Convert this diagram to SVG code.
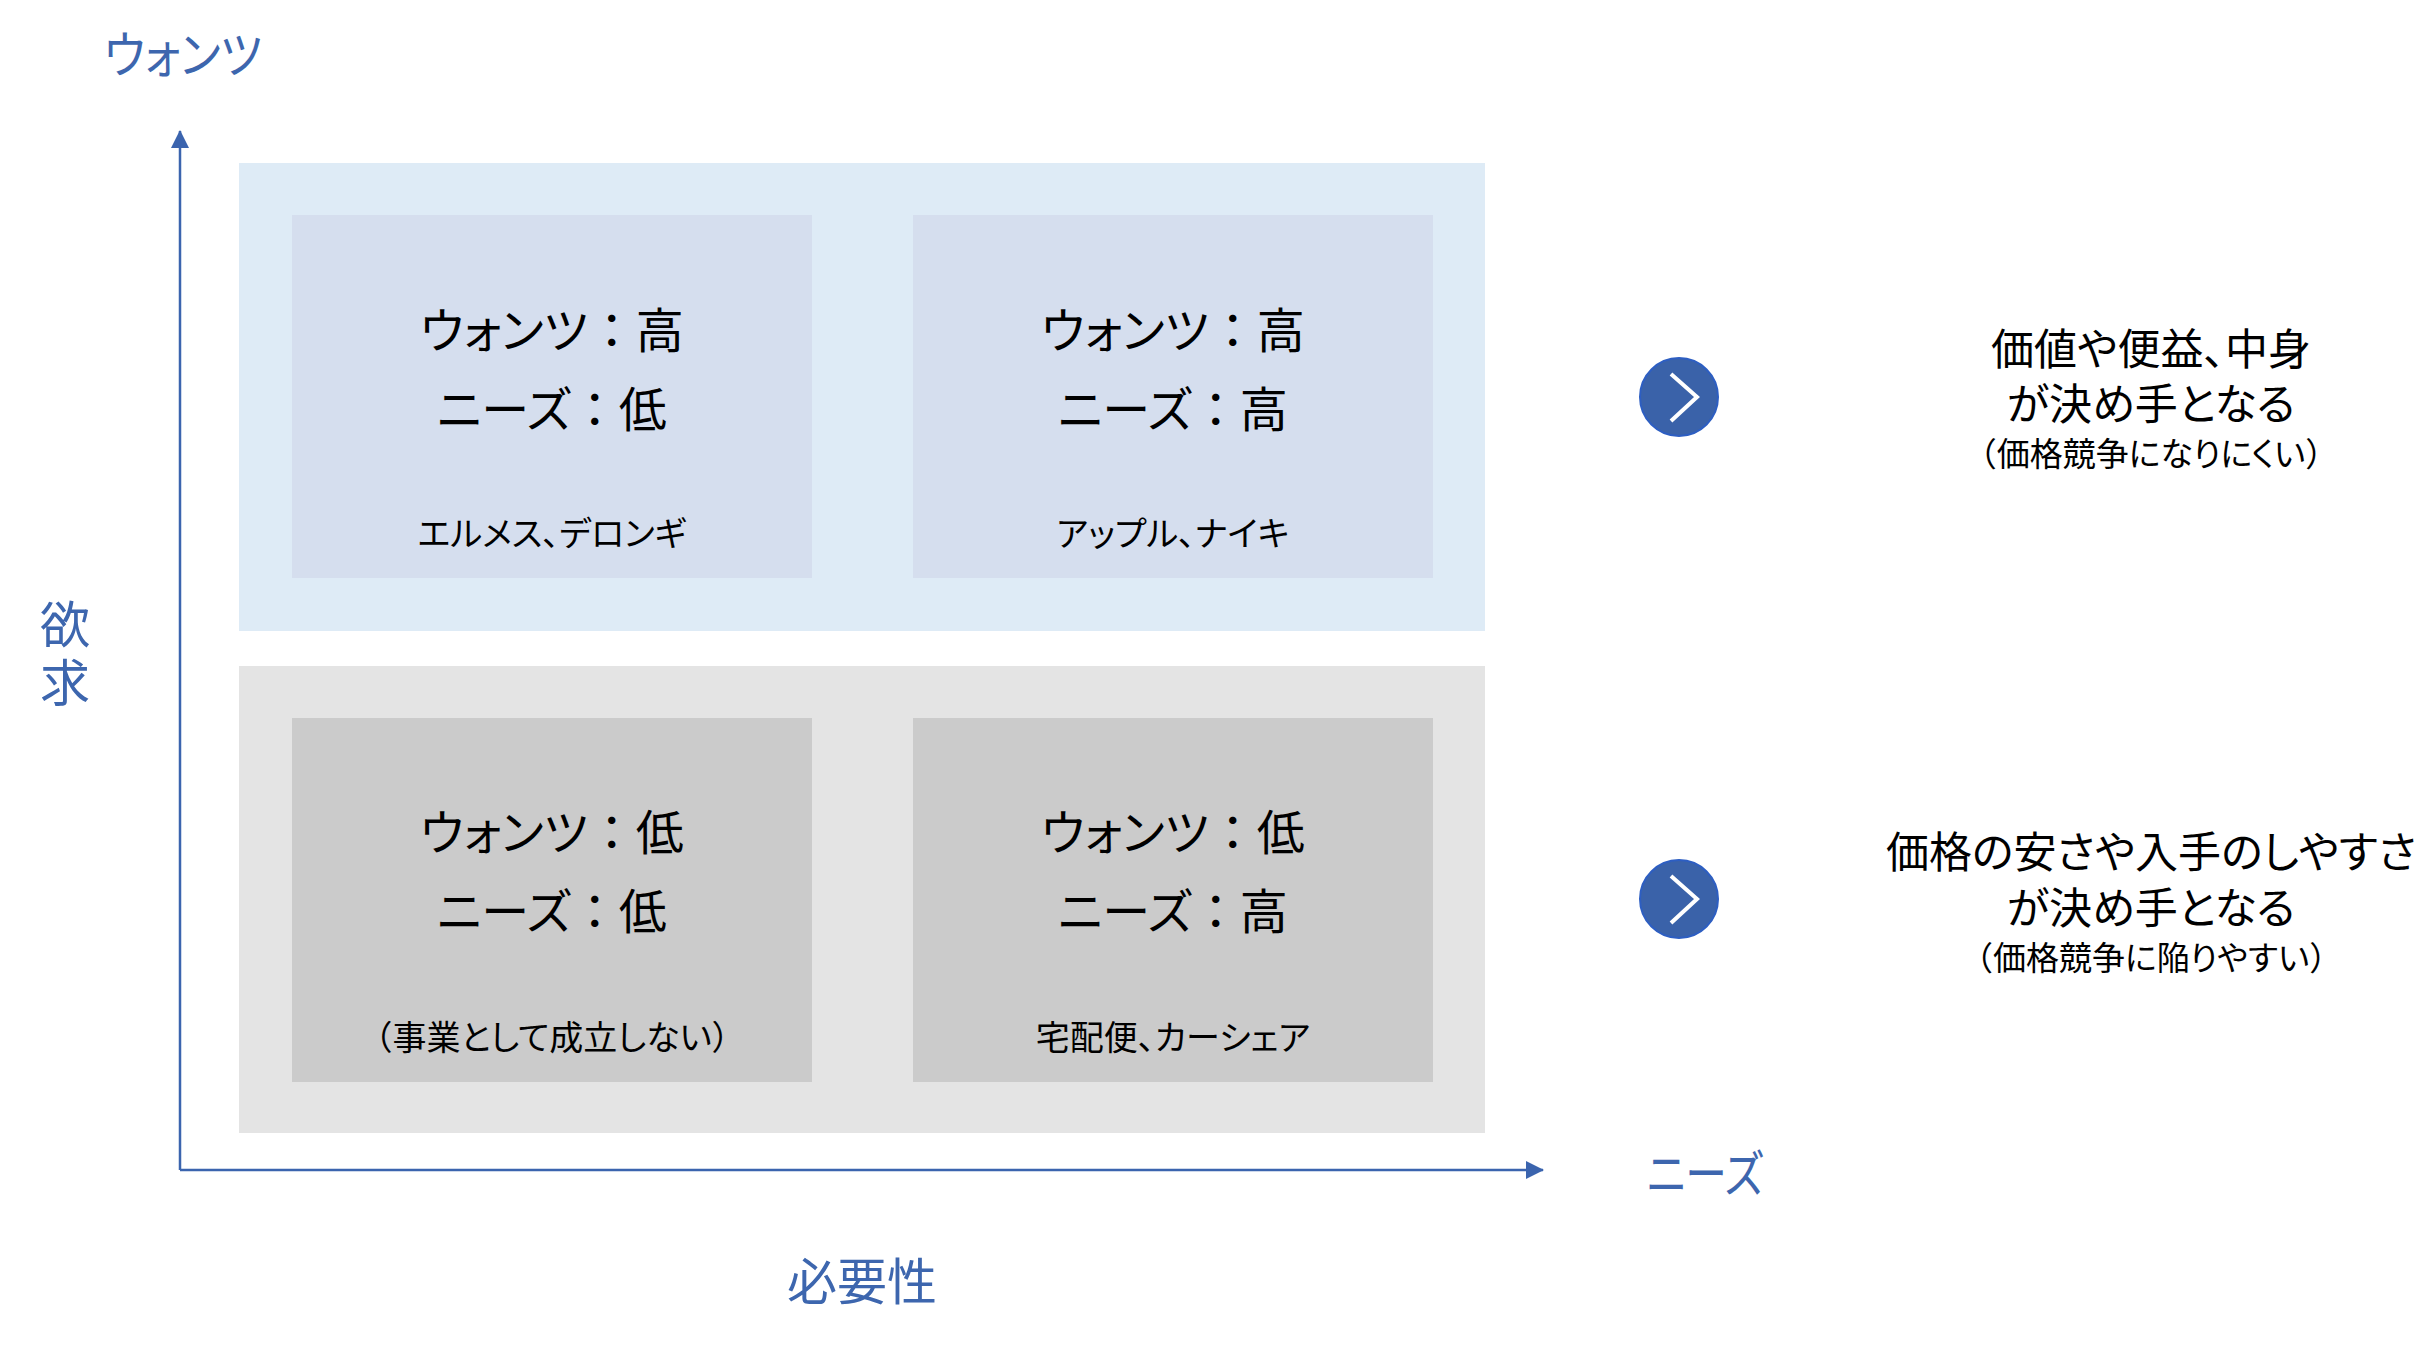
<svg xmlns="http://www.w3.org/2000/svg" width="2436" height="1345" viewBox="0 0 2436 1345">
<style>
text{font-family:"Noto Sans CJK JP","Noto Sans CJK SC",sans-serif;font-feature-settings:"palt" 1;text-anchor:middle;dominant-baseline:central;}
.fw{font-feature-settings:normal;}
.ax{fill:#3D66AE;font-size:50px;}
.big{fill:#000;font-size:48px;}
.small{fill:#000;font-size:34px;}
.rt{fill:#000;font-size:43px;}
.rs{fill:#000;font-size:33px;}
.outerB{fill:#DEEBF6;}
.innerB{fill:#D5DEEE;}
.outerG{fill:#E4E4E4;}
.innerG{fill:#CBCBCB;}
.circ{fill:#3A62A9;stroke:#2D5EC2;stroke-width:2;}
.chev{fill:none;stroke:#fff;stroke-width:4;}
.axis{stroke:#3B64AE;stroke-width:2.5;fill:none;}
</style>
<defs>
<marker id="ah" viewBox="0 0 18 18" refX="17" refY="9" markerWidth="18" markerHeight="18" markerUnits="userSpaceOnUse" orient="auto">
<path d="M0,0 L18,9 L0,18 Z" fill="#3B64AE"/>
</marker>
</defs>
<g id="connectors">
<line class="axis" x1="180" y1="1170" x2="180" y2="131" marker-end="url(#ah)"/>
<line class="axis" x1="180" y1="1170" x2="1543" y2="1170" marker-end="url(#ah)"/>
</g>
<g id="label-wants"><text class="ax" x="183" y="51" textLength="158" lengthAdjust="spacingAndGlyphs">ウォンツ</text></g>
<g id="label-yokkyu"><text class="ax" x="65" y="621">欲</text><text class="ax" x="65" y="679">求</text></g>
<g id="label-needs"><text class="ax" x="1705" y="1170" textLength="116" lengthAdjust="spacingAndGlyphs">ニーズ</text></g>
<g id="label-hitsuyosei"><text class="ax" x="862" y="1278">必要性</text></g>
<g id="band-top"><rect class="outerB" x="239" y="163" width="1246" height="468"/></g>
<g id="band-bottom"><rect class="outerG" x="239" y="666" width="1246" height="467"/></g>
<g id="q-tl">
<rect class="innerB" x="292" y="215" width="520" height="363"/>
<text class="big" x="552" y="327">ウォンツ<tspan class="fw">：</tspan>高</text>
<text class="big" x="552" y="406">ニーズ<tspan class="fw">：</tspan>低</text>
<text class="small" x="552" y="531">エルメス、デロンギ</text>
</g>
<g id="q-tr">
<rect class="innerB" x="913" y="215" width="520" height="363"/>
<text class="big" x="1173" y="327">ウォンツ<tspan class="fw">：</tspan>高</text>
<text class="big" x="1173" y="406">ニーズ<tspan class="fw">：</tspan>高</text>
<text class="small" x="1173" y="531">アップル、ナイキ</text>
</g>
<g id="q-bl">
<rect class="innerG" x="292" y="718" width="520" height="364"/>
<text class="big" x="552" y="829">ウォンツ<tspan class="fw">：</tspan>低</text>
<text class="big" x="552" y="908">ニーズ<tspan class="fw">：</tspan>低</text>
<text class="small" x="552" y="1035"><tspan class="fw">（</tspan>事業として成立しない<tspan class="fw">）</tspan></text>
</g>
<g id="q-br">
<rect class="innerG" x="913" y="718" width="520" height="364"/>
<text class="big" x="1173" y="829">ウォンツ<tspan class="fw">：</tspan>低</text>
<text class="big" x="1173" y="908">ニーズ<tspan class="fw">：</tspan>高</text>
<text class="small" x="1173" y="1035">宅配便、カーシェア</text>
</g>
<g id="chevron-top">
<circle class="circ" cx="1679" cy="397" r="39"/>
<polyline class="chev" points="1671,374 1697,397 1671,421"/>
</g>
<g id="chevron-bottom">
<circle class="circ" cx="1679" cy="899" r="39"/>
<polyline class="chev" points="1671,876 1697,899 1671,923"/>
</g>
<g id="note-top">
<text class="rt" x="2151" y="346">価値や便益、中身</text>
<text class="rt" x="2151" y="401">が決め手となる</text>
<text class="rs" x="2151" y="452"><tspan class="fw">（</tspan>価格競争になりにくい<tspan class="fw">）</tspan></text>
</g>
<g id="note-bottom">
<text class="rt" x="2151" y="849">価格の安さや入手のしやすさ</text>
<text class="rt" x="2151" y="905">が決め手となる</text>
<text class="rs" x="2151" y="956"><tspan class="fw">（</tspan>価格競争に陥りやすい<tspan class="fw">）</tspan></text>
</g>
</svg>
